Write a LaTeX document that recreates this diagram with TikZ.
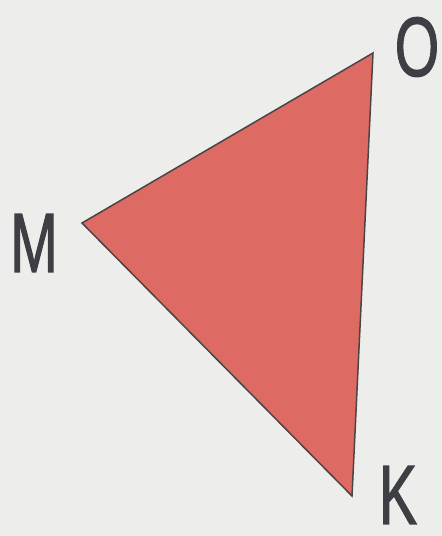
\documentclass[tikz,border=0pt]{standalone}
\usepackage{fontspec}
\setmainfont{Liberation Sans}
\newfontfamily\labelfont{Liberation Sans}[FakeBold=1.6]
\usetikzlibrary{positioning}
\definecolor{triFill}{HTML}{DE6A64}
\definecolor{triEdge}{HTML}{4A4446}
\definecolor{paperGrey}{HTML}{EDEDEB}
\definecolor{letterGrey}{HTML}{3E3F45}
\newcommand{\narrowletter}[1]{\scalebox{0.68}[1]{#1}}

\begin{document}
\begin{tikzpicture}[x=1pt,y=-1pt,
   vlabel/.style={text=letterGrey,inner sep=0pt,font=\labelfont\fontsize{84}{84}\selectfont}]
  \fill[paperGrey] (0,0) rectangle (442,536);
  \useasboundingbox (0,0) rectangle (442,536);
  % vertices
  \coordinate (M) at (82,223);
  \coordinate (O) at (373,53);
  \coordinate (K) at (352,496);
  \filldraw[fill=triFill,draw=triEdge,line width=1.5pt,line join=miter]
    (M) -- (O) -- (K) -- cycle;
  % labels
  \node[vlabel] (lO) at (417,47) {\narrowletter{O}};
  \node[vlabel] (lM) at (34,243) {\narrowletter{M}};
  \node[vlabel] (lK) at (398,495) {\narrowletter{K}};
\end{tikzpicture}
\end{document}
